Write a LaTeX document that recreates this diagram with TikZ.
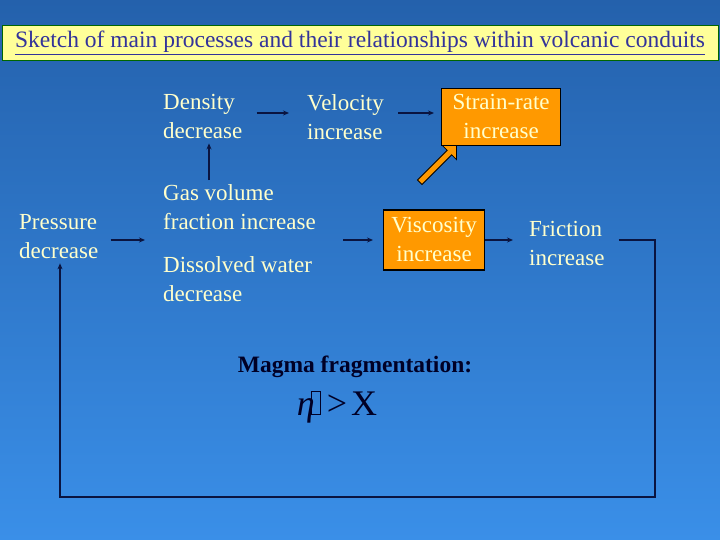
\documentclass[tikz,border=0pt]{standalone}
\usepackage{fontspec}
\setmainfont{Liberation Serif}
\usetikzlibrary{shapes.arrows,arrows.meta}
\definecolor{txtyellow}{HTML}{FFFFCC}
\definecolor{titlefill}{HTML}{FFFF99}
\definecolor{titleblue}{HTML}{33339A}
\definecolor{boxorange}{HTML}{FF9900}
\definecolor{bgtop}{HTML}{2461AC}
\definecolor{bgbot}{HTML}{3A8FE8}
\definecolor{arrowdark}{HTML}{0A1440}
\tikzset{
  proc/.style={text=txtyellow, align=left, font=\fontsize{23}{29}\selectfont, inner sep=2pt},
  hot/.style={proc, fill=boxorange, draw=black, line width=1.2pt, align=center},
  link/.style={-{Stealth[length=6pt,width=5pt]}, line width=1.6pt, draw=arrowdark},
}
\begin{document}
\begin{tikzpicture}[x=1pt,y=1pt]
  % background
  \shade[top color=bgtop, bottom color=bgbot] (0,0) rectangle (720,540);
  \useasboundingbox (0,0) rectangle (720,540);
  % title
  \node[draw=green!40!black, fill=titlefill, line width=1pt, minimum width=716, minimum height=35,
        text=titleblue, font=\fontsize{23.5}{26}\selectfont, inner sep=0pt] (title) at (360,497)
        {\underline{Sketch of main processes and their relationships within volcanic conduits}};
  % processes
  \node[proc, anchor=west] (density) at (161,423) {Density\\decrease};
  \node[proc, anchor=west] (velocity) at (305,423) {Velocity\\increase};
  \node[hot, anchor=west, minimum width=119, minimum height=57, text width=111] (strain) at (441,423) {Strain-rate\\increase};
  \node[proc, anchor=west] (gas) at (161,333) {Gas volume\\fraction increase};
  \node[proc, anchor=west] (water) at (161,261) {Dissolved water\\decrease};
  \node[proc, anchor=west] (pressure) at (17,303) {Pressure\\decrease};
  \node[hot, anchor=west, minimum width=101, minimum height=60, text width=93] (viscosity) at (383,300) {Viscosity\\increase};
  \node[proc, anchor=west] (friction) at (527,296) {Friction\\increase};
  \node[font=\fontsize{23.5}{26}\selectfont\bfseries, text=black!85!blue] (frag) at (355,173) {Magma fragmentation:};
  \node[font=\fontsize{36}{40}\selectfont, text=black!85!blue] (crit) at (337,133)
        {\textit{η}\kern-4pt\raisebox{2pt}{\setlength{\fboxsep}{0pt}\setlength{\fboxrule}{1pt}\fbox{\rule{0pt}{22pt}\hspace{8pt}}}\kern6pt>\kern4pt X};
  \coordinate (split) at (343,300);
  \coordinate (corner1) at (655,300);
  \coordinate (corner2) at (655,43);
  \coordinate (corner3) at (60,43);
  % connectors
  \draw[link] ([xshift=12pt]density.east |- 0,427) -- ([xshift=-16pt]velocity.west |- 0,427);
  \draw[link] ([xshift=12pt]velocity.east |- 0,427) -- ([xshift=-7pt]strain.west |- 0,427);
  \draw[link] ([xshift=48pt,yshift=2pt]gas.north west) -- ([xshift=48pt,yshift=-2pt]density.south west);
  \draw[link] ([xshift=10pt]pressure.east |- 0,300) -- ([xshift=-16pt]gas.west |- 0,300);
  \draw[link] (split) -- ([xshift=-10pt]viscosity.west);
  \draw[link] (viscosity.east) -- ([xshift=-14pt]friction.west |- 0,300);
  \draw[link] ([xshift=12pt]friction.east |- corner1) -- (corner1) -- (corner2) -- (corner3) -- ([yshift=-2pt]pressure.south -| corner3);
  \node[single arrow, draw=black, fill=boxorange, line width=0.8pt, minimum width=20pt,
        single arrow head extend=3pt, minimum height=52pt, inner sep=1pt, rotate=45] (push) at (437,375) {};
\end{tikzpicture}
\end{document}
